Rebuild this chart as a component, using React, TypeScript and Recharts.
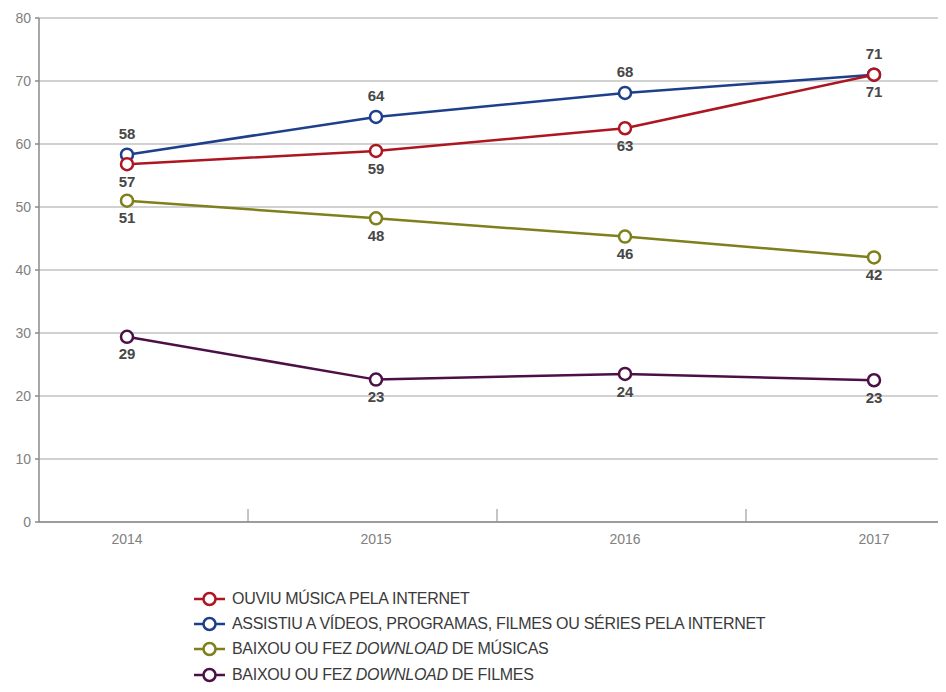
import React from "react";
import { LineChart, Line, XAxis, YAxis, CartesianGrid, LabelList } from "recharts";

const years = ["2014", "2015", "2016", "2017"];
const ouviuMusica = [56.8, 58.9, 62.5, 71];
const ouviuMusicaLabels = [57, 59, 63, 71];
const assistiuVideos = [58.3, 64.3, 68.1, 71];
const assistiuVideosLabels = [58, 64, 68, 71];
const baixouMusicas = [51, 48.2, 45.3, 42];
const baixouMusicasLabels = [51, 48, 46, 42];
const baixouFilmes = [29.4, 22.6, 23.5, 22.5];
const baixouFilmesLabels = [29, 23, 24, 23];
const yTicks = [0, 10, 20, 30, 40, 50, 60, 70, 80];

const COLORS = {
  red: "#ad1620",
  blue: "#1e3f8c",
  olive: "#7f7f1c",
  purple: "#4c1047",
};

const data = years.map((y, i) => ({
  year: y,
  red: ouviuMusica[i],
  redL: ouviuMusicaLabels[i],
  blue: assistiuVideos[i],
  blueL: assistiuVideosLabels[i],
  olive: baixouMusicas[i],
  oliveL: baixouMusicasLabels[i],
  purple: baixouFilmes[i],
  purpleL: baixouFilmesLabels[i],
}));

const legendItems = [
  { color: COLORS.red, text: [{ t: "OUVIU MÚSICA PELA INTERNET" }] },
  { color: COLORS.blue, text: [{ t: "ASSISTIU A VÍDEOS, PROGRAMAS, FILMES OU SÉRIES PELA INTERNET" }] },
  { color: COLORS.olive, text: [{ t: "BAIXOU OU FEZ " }, { t: "DOWNLOAD", i: true }, { t: " DE MÚSICAS" }] },
  { color: COLORS.purple, text: [{ t: "BAIXOU OU FEZ " }, { t: "DOWNLOAD", i: true }, { t: " DE FILMES" }] },
];

const labelFont = { fontFamily: "Liberation Sans, Arial, sans-serif", fontSize: 15, fontWeight: 700, fill: "#474747" };

const XTick = (props: any) => {
  const { x, y, payload, index } = props;
  const last = index === years.length - 1;
  return (
    <g>
      <text x={x} y={y + 22} textAnchor="middle" fontFamily="Liberation Sans, Arial, sans-serif" fontSize={14} fill="#808080">
        {payload.value}
      </text>
      {!last && <line x1={x + 121} x2={x + 121} y1={y - 13} y2={y} stroke="#8a8a8a" strokeWidth={1} />}
    </g>
  );
};

const LegendBlock = () => (
  <div
    style={{
      position: "absolute",
      left: 185,
      top: 578,
      fontFamily: "Liberation Sans, Arial, sans-serif",
      fontSize: 16,
      letterSpacing: -0.3,
      color: "#3a3a3a",
    }}
  >
    {legendItems.map((it, k) => (
      <div key={k} style={{ display: "flex", alignItems: "center", height: 25.3 }}>
        <svg width={34} height={16} style={{ marginRight: 5 }}>
          <line x1={1} x2={32} y1={8} y2={8} stroke={it.color} strokeWidth={2.5} />
          <circle cx={16.5} cy={8} r={6} fill="#fff" stroke={it.color} strokeWidth={2.5} />
        </svg>
        <span>
          {it.text.map((s: any, j: number) => (
            <span key={j} style={{ fontStyle: s.i ? "italic" : "normal" }}>{s.t}</span>
          ))}
        </span>
      </div>
    ))}
  </div>
);

const dot = (color: string) => ({ r: 6, fill: "#fff", stroke: color, strokeWidth: 2.5 });

export default function App() {
  return (
    <div style={{ position: "relative", width: 938, height: 684 }}>
      <LineChart width={938} height={684} data={data} margin={{ top: 10, right: 0, left: 0, bottom: 140 }}>
        <CartesianGrid vertical={false} stroke="#a3a3a3" strokeWidth={1.2} />
        <XAxis
          dataKey="year"
          padding={{ left: 88, right: 72 }}
          tickLine={false}
          tickSize={0}
          tickMargin={0}
          height={30}
          stroke="#8a8a8a"
          strokeWidth={1.5}
          tick={<XTick />}
          interval={0}
        />
        <YAxis
          domain={[0, 80]}
          ticks={yTicks}
          width={31}
          tickSize={4}
          tickMargin={4}
          stroke="#8a8a8a"
          strokeWidth={1.5}
          tick={{ fontFamily: "Liberation Sans, Arial, sans-serif", fontSize: 14, fill: "#808080" }}
        />
        <Line dataKey="blue" stroke={COLORS.blue} strokeWidth={2.5} dot={dot(COLORS.blue)} isAnimationActive={false}>
          <LabelList dataKey="blueL" position="top" offset={16} style={labelFont} />
        </Line>
        <Line dataKey="red" stroke={COLORS.red} strokeWidth={2.5} dot={dot(COLORS.red)} isAnimationActive={false}>
          <LabelList dataKey="redL" position="bottom" offset={12} style={labelFont} />
        </Line>
        <Line dataKey="olive" stroke={COLORS.olive} strokeWidth={2.5} dot={dot(COLORS.olive)} isAnimationActive={false}>
          <LabelList dataKey="oliveL" position="bottom" offset={12} style={labelFont} />
        </Line>
        <Line dataKey="purple" stroke={COLORS.purple} strokeWidth={2.5} dot={dot(COLORS.purple)} isAnimationActive={false}>
          <LabelList dataKey="purpleL" position="bottom" offset={12} style={labelFont} />
        </Line>
      </LineChart>
      <LegendBlock />
    </div>
  );
}
